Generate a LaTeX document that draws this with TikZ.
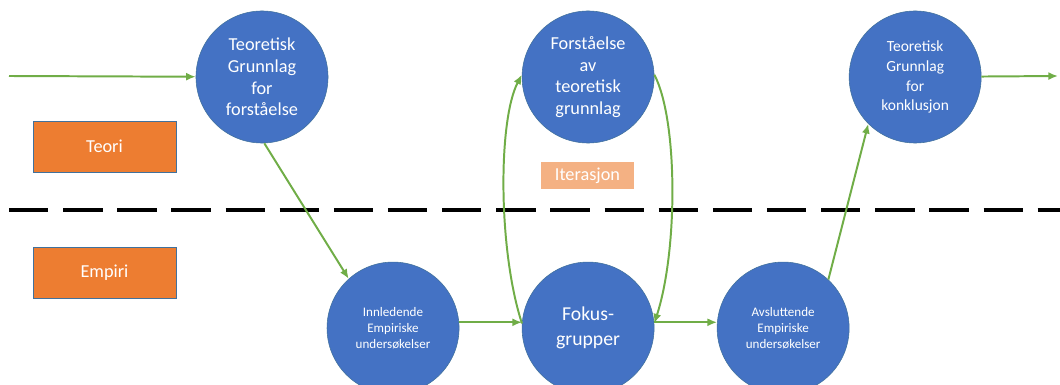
\documentclass[tikz,border=0pt]{standalone}
\usepackage{fontspec}
\setmainfont{Carlito}
\usepackage{tikz}
\usetikzlibrary{arrows.meta, positioning}
\definecolor{kblue}{HTML}{4472C4}
\definecolor{kedge}{HTML}{41719C}
\definecolor{korange}{HTML}{ED7D31}
\definecolor{klight}{HTML}{F4B183}
\definecolor{kgreen}{HTML}{70AD47}
\tikzstyle{circ}=[draw=kedge,line width=0.4pt,fill=kblue,circle,minimum size=3.3cm,inner sep=0pt,text=white,align=center]
\tikzstyle{field}=[draw=kedge,line width=0.4pt,fill=korange,rectangle,minimum width=3.575cm,minimum height=1.275cm,text=white,font=\fontsize{13}{15}\selectfont]
\tikzstyle{flow}=[draw=kgreen,line width=1.4pt,->]

\begin{document}
\begin{tikzpicture}[x=0.025cm,y=-0.025cm,>={Latex[length=2.4mm,width=2mm]}]
    \useasboundingbox (0,0) rectangle (1060,385);
    \node[circ, font=\fontsize{13}{15.5}\selectfont] (grunnlag) at (262,77) {Teoretisk\\Grunnlag\\for\\forståelse};
    \node[circ, font=\fontsize{13}{15.5}\selectfont, right of=grunnlag, node distance=8.15cm] (forstaa) {Forståelse\\av\\teoretisk\\grunnlag};
    \node[circ, font=\fontsize{11}{14.2}\selectfont, right of=forstaa, node distance=8.175cm] (konkl) {Teoretisk\\Grunnlag\\for\\konklusjon};
    \node[circ, font=\fontsize{14}{17.7}\selectfont, below of=forstaa, node distance=6.275cm] (fokus) {Fokus-\\grupper};
    \node[circ, font=\fontsize{9.3}{11.3}\selectfont, left of=fokus, node distance=4.875cm] (innl) {Innledende\\Empiriske\\undersøkelser};
    \node[circ, font=\fontsize{9.3}{11.3}\selectfont, right of=fokus, node distance=4.875cm] (avsl) {Avsluttende\\Empiriske\\undersøkelser};
    \node[field] (teori) at (104.5,146.5) {Teori};
    \node[field] (empiri) at (104.5,272.5) {Empiri};
    \node[fill=klight,minimum width=2.325cm,minimum height=0.675cm,text=white,font=\fontsize{13}{15}\selectfont] (iter) at (587.5,175.5) {Iterasjon};
    \coordinate (inn) at (9,76);
    \coordinate (ut) at (1058,76);
    \coordinate (skille) at (9,210);
    \coordinate (skilleslutt) at (1060,210);
    % skillelinje teori/empiri
    \draw[line width=3.5pt,dash pattern=on 28pt off 10.5pt] (skille) -- (skilleslutt);
    \draw[flow] (inn) -- (grunnlag);
    \draw[flow] (grunnlag.-88) -- (innl.132);
    \draw[flow] (innl.5) -- (fokus.175);
    \draw[flow] (fokus.176) .. controls (498,250) and (498,120) .. (forstaa.178);
    \draw[flow] (forstaa.2) .. controls (678,120) and (678,250) .. (fokus.4);
    \draw[flow] (fokus.5) -- (avsl.175);
    \draw[flow] (avsl.47) -- (konkl.225);
    \draw[flow] (konkl) -- (ut);
\end{tikzpicture}
\end{document}
